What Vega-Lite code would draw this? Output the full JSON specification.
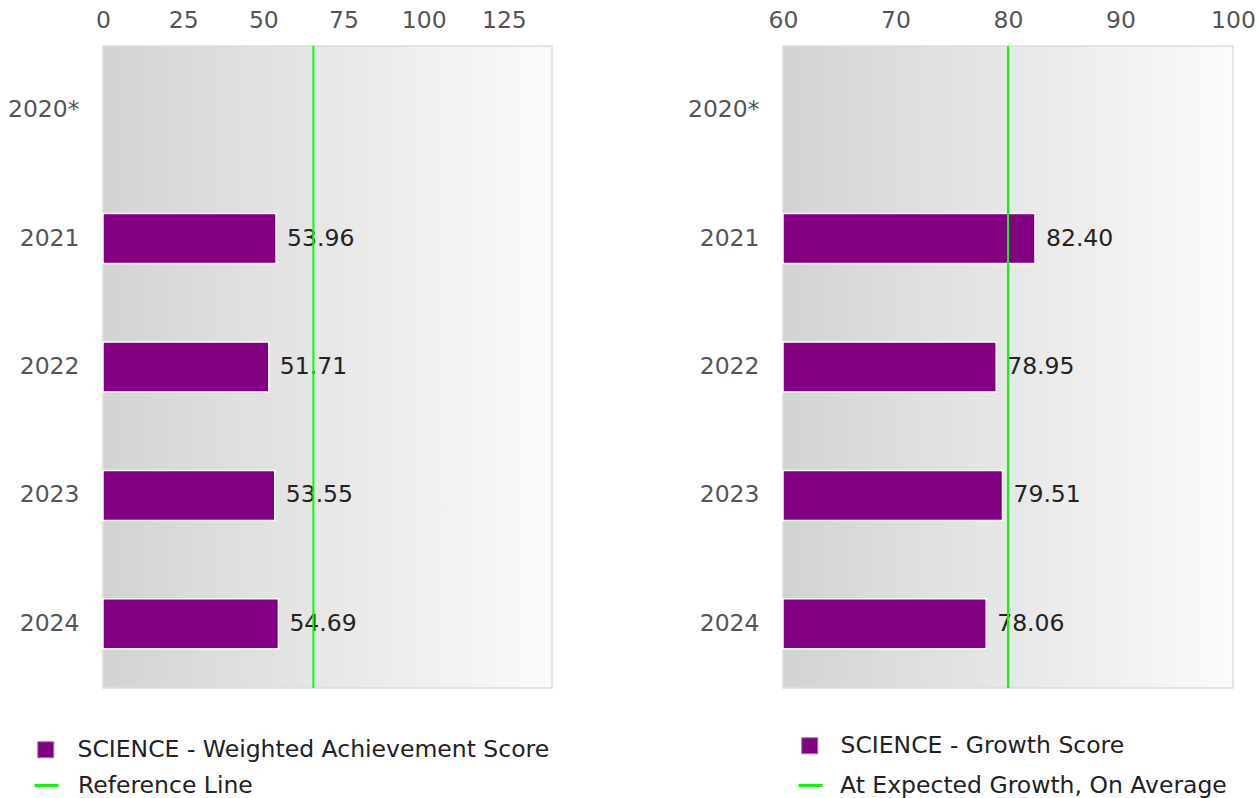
{
  "$schema": "https://vega.github.io/schema/vega-lite/v6.json",
  "padding": {"left": 2, "top": 5, "right": 0, "bottom": 0},
  "spacing": 231,
  "bounds": "flush",
  "config": {
    "font": "DejaVu Sans",
    "view": {
      "fill": {"gradient": "linear", "x1": 0, "y1": 0, "x2": 1, "y2": 0,
        "stops": [{"offset": 0, "color": "#d3d3d3"}, {"offset": 1, "color": "#fbfbfb"}]},
      "stroke": "#dddddd",
      "strokeWidth": 1.5
    },
    "axis": {"domain": false, "ticks": false, "grid": false, "labelFontSize": 23.5, "labelColor": "#555555", "title": null, "labelFlush": false},
    "legend": {"labelFontSize": 23.5, "labelColor": "#222222", "labelLimit": 0, "title": null}
  },
  "resolve": {"scale": {"fill": "independent", "stroke": "independent", "x": "independent"}, "legend": {"fill": "independent", "stroke": "independent"}},
  "datasets": {
    "left": [
      {"year": "2021", "value": 53.96, "series": "SCIENCE - Weighted Achievement Score"},
      {"year": "2022", "value": 51.71, "series": "SCIENCE - Weighted Achievement Score"},
      {"year": "2023", "value": 53.55, "series": "SCIENCE - Weighted Achievement Score"},
      {"year": "2024", "value": 54.69, "series": "SCIENCE - Weighted Achievement Score"}
    ],
    "leftRef": [{"value": 65.6, "series": "Reference Line"}],
    "right": [
      {"year": "2021", "value": 82.40, "series": "SCIENCE - Growth Score"},
      {"year": "2022", "value": 78.95, "series": "SCIENCE - Growth Score"},
      {"year": "2023", "value": 79.51, "series": "SCIENCE - Growth Score"},
      {"year": "2024", "value": 78.06, "series": "SCIENCE - Growth Score"}
    ],
    "rightRef": [{"value": 80, "series": "At Expected Growth, On Average"}]
  },
  "hconcat": [
    {
      "width": 449,
      "height": 642,
      "layer": [
        {
          "data": {"name": "left"},
          "mark": {"type": "bar", "size": 50, "stroke": "#ffffff", "strokeWidth": 1.5},
          "encoding": {
            "y": {"field": "year", "type": "nominal", "scale": {"domain": ["2020*", "2021", "2022", "2023", "2024"]},
              "axis": {"labelPadding": 24, "minExtent": 100, "maxExtent": 100}},
            "x": {"field": "value", "type": "quantitative", "scale": {"domain": [0, 140], "nice": false},
              "axis": {"orient": "top", "values": [0, 25, 50, 75, 100, 125], "labelPadding": 14, "minExtent": 40, "maxExtent": 40}},
            "fill": {"field": "series", "type": "nominal",
              "scale": {"range": ["#800080"]},
              "legend": {"orient": "none", "legendX": -69, "legendY": 692, "symbolType": "square", "symbolSize": 256,
                "symbolStrokeColor": "#888888", "symbolStrokeWidth": 1, "labelOffset": 20}}
          }
        },
        {
          "data": {"name": "left"},
          "mark": {"type": "text", "align": "left", "baseline": "middle", "dx": 11, "fontSize": 23.5, "color": "#222222"},
          "encoding": {
            "y": {"field": "year", "type": "nominal"},
            "x": {"field": "value", "type": "quantitative"},
            "text": {"field": "value", "type": "quantitative", "format": ".2f"}
          }
        },
        {
          "data": {"name": "leftRef"},
          "mark": {"type": "rule", "strokeWidth": 2},
          "encoding": {
            "x": {"field": "value", "type": "quantitative"},
            "stroke": {"field": "series", "type": "nominal",
              "scale": {"range": ["#00ff00"]},
              "legend": {"orient": "none", "legendX": -70, "legendY": 726, "symbolType": "stroke", "symbolSize": 576,
                "symbolStrokeWidth": 3, "labelOffset": 18}}
          }
        }
      ]
    },
    {
      "width": 450,
      "height": 642,
      "layer": [
        {
          "data": {"name": "right"},
          "mark": {"type": "bar", "size": 50, "stroke": "#ffffff", "strokeWidth": 1.5},
          "encoding": {
            "y": {"field": "year", "type": "nominal", "scale": {"domain": ["2020*", "2021", "2022", "2023", "2024"]},
              "axis": {"labelPadding": 24, "minExtent": 100, "maxExtent": 100}},
            "x": {"field": "value", "type": "quantitative", "scale": {"domain": [60, 100], "nice": false, "zero": false},
              "axis": {"orient": "top", "values": [60, 70, 80, 90, 100], "labelPadding": 14, "minExtent": 40, "maxExtent": 40}},
            "x2": {"datum": 60},
            "fill": {"field": "series", "type": "nominal",
              "scale": {"range": ["#800080"]},
              "legend": {"orient": "none", "legendX": 15, "legendY": 688, "symbolType": "square", "symbolSize": 256,
                "symbolStrokeColor": "#888888", "symbolStrokeWidth": 1, "labelOffset": 19}}
          }
        },
        {
          "data": {"name": "right"},
          "mark": {"type": "text", "align": "left", "baseline": "middle", "dx": 11, "fontSize": 23.5, "color": "#222222"},
          "encoding": {
            "y": {"field": "year", "type": "nominal"},
            "x": {"field": "value", "type": "quantitative"},
            "text": {"field": "value", "type": "quantitative", "format": ".2f"}
          }
        },
        {
          "data": {"name": "rightRef"},
          "mark": {"type": "rule", "strokeWidth": 2},
          "encoding": {
            "x": {"field": "value", "type": "quantitative"},
            "stroke": {"field": "series", "type": "nominal",
              "scale": {"range": ["#00ff00"]},
              "legend": {"orient": "none", "legendX": 14, "legendY": 726, "symbolType": "stroke", "symbolSize": 576,
                "symbolStrokeWidth": 3, "labelOffset": 16}}
          }
        }
      ]
    }
  ]
}
